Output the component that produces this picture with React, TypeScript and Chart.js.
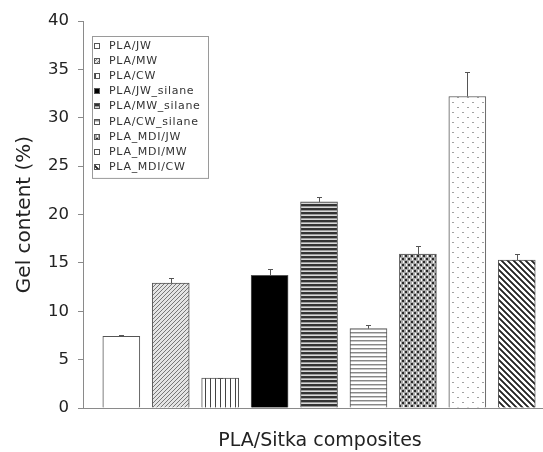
import React, { useEffect, useRef } from 'react';
import { Chart, registerables } from 'chart.js';

Chart.register(...registerables);

// ---- data ----
const categories = [
  'PLA/JW',
  'PLA/MW',
  'PLA/CW',
  'PLA/JW_silane',
  'PLA/MW_silane',
  'PLA/CW_silane',
  'PLA_MDI/JW',
  'PLA_MDI/MW',
  'PLA_MDI/CW',
];
const gelContent = [7.4, 12.9, 3.1, 13.7, 21.3, 8.2, 15.9, 32.2, 15.3];
const gelError = [0.15, 0.55, 0.05, 0.7, 0.5, 0.35, 0.8, 2.5, 0.65];
const barPositions = [1, 2, 3, 4, 5, 6, 7, 8, 9];
const yMin = 0;
const yMax = 40;
const yStep = 5;
const yTitle = 'Gel content (%)';
const xTitle = 'PLA/Sitka composites';

// ---- styles ----
const patternKinds = ['white', 'diagUp', 'vert', 'black', 'hThick', 'hThin', 'weave', 'dots', 'diagDown'];
const FONT = '"DejaVu Sans", "Liberation Sans", Arial, sans-serif';

function tile(w: number, h: number, draw: (g: CanvasRenderingContext2D) => void) {
  const c = document.createElement('canvas');
  c.width = w;
  c.height = h;
  const g = c.getContext('2d')!;
  draw(g);
  return g.createPattern(c, 'repeat')!;
}

function makeFill(kind: string): any {
  switch (kind) {
    case 'white':
      return '#ffffff';
    case 'black':
      return '#000000';
    case 'diagUp':
      return tile(4, 4, (g) => {
        g.fillStyle = '#e4e4e4';
        g.fillRect(0, 0, 4, 4);
        g.fillStyle = '#777';
        for (let i = 0; i < 4; i++) g.fillRect(i, 3 - i, 1, 1);
      });
    case 'vert':
      return tile(5, 1, (g) => {
        g.fillStyle = '#fff';
        g.fillRect(0, 0, 5, 1);
        g.fillStyle = '#444';
        g.fillRect(0, 0, 1, 1);
      });
    case 'hThick':
      return tile(1, 4, (g) => {
        g.fillStyle = '#333';
        g.fillRect(0, 0, 1, 2);
        g.fillStyle = '#999';
        g.fillRect(0, 2, 1, 1);
        g.fillStyle = '#d8d8d8';
        g.fillRect(0, 3, 1, 1);
      });
    case 'hThin':
      return tile(1, 4, (g) => {
        g.fillStyle = '#fff';
        g.fillRect(0, 0, 1, 4);
        g.fillStyle = '#888';
        g.fillRect(0, 0, 1, 1);
        g.fillStyle = '#c8c8c8';
        g.fillRect(0, 1, 1, 1);
      });
    case 'weave':
      return tile(6, 6, (g) => {
        g.fillStyle = '#a8a8a8';
        g.fillRect(0, 0, 6, 6);
        g.fillStyle = '#2a2a2a';
        g.fillRect(0, 0, 2, 2);
        g.fillRect(3, 3, 2, 2);
        g.fillStyle = '#ffffff';
        g.fillRect(4, 0, 1, 2);
        g.fillRect(1, 3, 1, 2);
      });
    case 'dots':
      return tile(10, 10, (g) => {
        g.fillStyle = '#fff';
        g.fillRect(0, 0, 10, 10);
        g.fillStyle = '#a0a0a0';
        g.fillRect(2, 2, 2, 1);
        g.fillRect(7, 7, 2, 1);
      });
    case 'diagDown':
      return tile(6, 6, (g) => {
        g.fillStyle = '#fff';
        g.fillRect(0, 0, 6, 6);
        for (let y = 0; y < 6; y++) {
          for (let x = 0; x < 6; x++) {
            const d = (x - y + 12) % 6;
            if (d < 3) {
              g.fillStyle = d === 1 ? '#222' : '#555';
              g.fillRect(x, y, 1, 1);
            }
          }
        }
      });
  }
  return '#fff';
}

const errorBarPlugin = {
  id: 'errorBars',
  afterDatasetsDraw(chart: any) {
    const ctx = chart.ctx;
    const ys = chart.scales.y;
    chart.data.datasets.forEach((ds: any, i: number) => {
      const meta = chart.getDatasetMeta(i);
      const el = meta.data[0];
      if (!el) return;
      const v = ds.data[0].y;
      const err = ds.errorValues[0];
      const top = Math.round(ys.getPixelForValue(v + err)) + 0.5;
      const base = ys.getPixelForValue(v);
      const x = Math.round(el.x) + 0.5;
      ctx.save();
      ctx.strokeStyle = '#555';
      ctx.lineWidth = 1;
      ctx.beginPath();
      ctx.moveTo(x, base);
      ctx.lineTo(x, top);
      ctx.moveTo(x - 2.5, top);
      ctx.lineTo(x + 2.5, top);
      ctx.stroke();
      ctx.restore();
    });
  },
};

const boxLegendPlugin = {
  id: 'boxLegend',
  afterDraw(chart: any) {
    const ctx = chart.ctx;
    const area = chart.chartArea;
    const left = area.left + 9;
    const top = area.top + 15;
    const w = 116;
    const rowH = 15.1;
    const n = chart.data.datasets.length;
    const h = rowH * n + 6;
    ctx.save();
    ctx.fillStyle = '#fff';
    ctx.fillRect(left, top, w, h);
    ctx.strokeStyle = '#9a9a9a';
    ctx.lineWidth = 1;
    ctx.strokeRect(Math.round(left) + 0.5, Math.round(top) + 0.5, w, h);
    ctx.font = `11px ${FONT}`;
    (ctx as any).letterSpacing = '0.7px';
    ctx.textBaseline = 'middle';
    ctx.textAlign = 'left';
    chart.data.datasets.forEach((ds: any, i: number) => {
      const cy = Math.round(top + 10 + i * rowH);
      const mx = Math.round(left) + 2;
      ctx.fillStyle = ds.backgroundColor;
      ctx.fillRect(mx, cy - 3, 6, 6);
      ctx.strokeStyle = '#555';
      ctx.strokeRect(mx + 0.5, cy - 2.5, 5, 5);
      ctx.fillStyle = '#333';
      ctx.fillText(ds.label, left + 17, cy + 0.5);
    });
    ctx.restore();
  },
};

export default function App() {
  const ref = useRef<HTMLCanvasElement>(null);

  useEffect(() => {
    document.body.style.margin = '0';
    const canvas = ref.current!;
    const datasets = categories.map((label, i) => ({
      label,
      data: [{ x: barPositions[i], y: gelContent[i] }],
      errorValues: [gelError[i]],
      backgroundColor: makeFill(patternKinds[i]),
      borderColor: '#555',
      borderWidth: 1,
      borderSkipped: 'bottom',
      barThickness: 37,
      grouped: false,
    }));

    const chart = new Chart(canvas, {
      type: 'bar',
      data: { datasets } as any,
      options: {
        animation: false,
        responsive: false,
        maintainAspectRatio: false,
        layout: { padding: { top: 21, left: 0, right: 0, bottom: 0 } },
        plugins: {
          legend: { display: false },
          tooltip: { enabled: false },
        },
        scales: {
          x: {
            type: 'linear',
            offset: false,
            min: 0.225,
            max: 9.814,
            grid: { display: false },
            border: { display: true, color: '#8a8a8a', width: 1 },
            ticks: { display: false },
            title: {
              display: true,
              text: xTitle,
              color: '#222',
              font: { family: FONT, size: 19 },
              padding: { top: 0, bottom: 0 },
            },
            afterFit: (s: any) => {
              s.height = 44;
            },
          },
          y: {
            min: yMin,
            max: yMax,
            grid: {
              drawOnChartArea: false,
              drawTicks: true,
              tickLength: 5,
              color: '#8a8a8a',
            },
            border: { display: true, color: '#8a8a8a', width: 1 },
            ticks: {
              stepSize: yStep,
              padding: 9,
              color: '#222',
              font: { family: FONT, size: 16.5 },
            },
            title: {
              display: true,
              text: yTitle,
              color: '#222',
              font: { family: FONT, size: 20 },
              padding: { top: 13, bottom: 0 },
            },
            afterFit: (s: any) => {
              s.width = 83;
            },
          },
        },
      } as any,
      plugins: [errorBarPlugin, boxLegendPlugin],
    });
    return () => chart.destroy();
  }, []);

  return (
    <div style={{ width: 543, height: 452, overflow: 'hidden' }}>
      <canvas ref={ref} width={557} height={452} style={{ display: 'block', width: 557, height: 452 }} />
    </div>
  );
}
